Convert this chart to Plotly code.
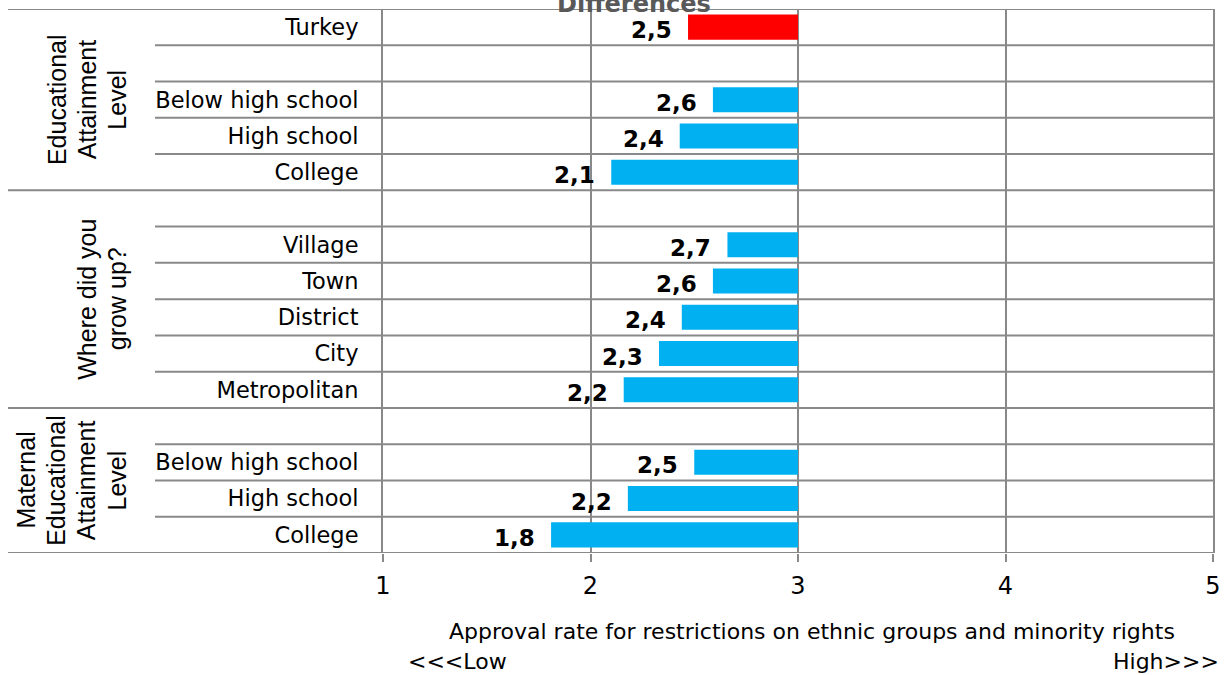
import plotly.graph_objects as go

# ---------------- data ----------------
rows = ["Turkey", "", "Below high school", "High school", "College",
        "", "Village", "Town", "District", "City", "Metropolitan",
        "", "Below high school", "High school", "College"]
values = [2.47, None, 2.59, 2.43, 2.10,
          None, 2.66, 2.59, 2.44, 2.33, 2.16,
          None, 2.50, 2.18, 1.81]
group_labels = [["Educational", "Attainment", "Level"],
                ["Where did you", "grow up?"],
                ["Maternal", "Educational", "Attainment", "Level"]]
group_spans = [(0, 4), (5, 10), (11, 14)]
highlight_row = "Turkey"
x_ticks = [1, 2, 3, 4, 5]
baseline = 3
chart_title = "Differences"
axis_title = "Approval rate for restrictions on ethnic groups and minority rights"
low_label = "<<<Low"
high_label = "High>>>"

# ---------------- layout constants ----------------
W, H = 1228, 675
ML, MR, MT, MB = 383, 15, 8.5, 122
PW = W - ML - MR
GRID = "#898989"
BLUE = "#00B0F0"
RED = "#FF0000"
CAT_FONT = "DejaVu Sans"
GRP_FONT = "Liberation Sans"


def px2paper(px):
    return (px - ML) / PW


bar_idx = [i for i, v in enumerate(values) if v is not None]
bar_vals = [values[i] for i in bar_idx]
bar_colors = [RED if rows[i] == highlight_row else BLUE for i in bar_idx]

fig = go.Figure()
fig.add_trace(go.Bar(
    y=bar_idx,
    x=[v - baseline for v in bar_vals],
    base=baseline,
    orientation="h",
    marker=dict(color=bar_colors, line=dict(width=0)),
    width=0.69,
    hoverinfo="skip",
))

annotations = []
# value labels
for i, v in zip(bar_idx, bar_vals):
    annotations.append(dict(
        x=v, y=i, xref="x", yref="y", xanchor="right", yanchor="middle",
        xshift=-14, yshift=-3, showarrow=False,
        text=f"{v:.1f}".replace(".", ","),
        font=dict(family="DejaVu Sans", size=23, color="black", weight="bold"),
    ))

# group labels (rotated)
line_step = 30.3
for lines, (a, b) in zip(group_labels, group_spans):
    n = len(lines)
    yc = (a + b) / 2
    for k, ln in enumerate(lines):
        xc = 117 - (n - 1 - k) * line_step
        annotations.append(dict(
            x=px2paper(xc), y=yc, xref="paper", yref="y",
            xanchor="center", yanchor="middle", showarrow=False,
            textangle=-90, text=ln,
            font=dict(family=GRP_FONT, size=25, color="black"),
        ))

# title (partially cut at top, as in the original)
annotations.append(dict(
    x=px2paper(634), y=1, xref="paper", yref="paper",
    xanchor="center", yanchor="middle", yshift=5, showarrow=False,
    text=f"<b>{chart_title}</b>",
    font=dict(family="DejaVu Sans", size=24, color="#595959"),
))
# axis title and low/high
annotations.append(dict(
    x=px2paper(812), y=0, xref="paper", yref="paper",
    xanchor="center", yanchor="middle", yshift=-(631 - (H - MB)), showarrow=False,
    text=axis_title, font=dict(family=CAT_FONT, size=22, color="black"),
))
annotations.append(dict(
    x=px2paper(406), y=0, xref="paper", yref="paper",
    xanchor="left", yanchor="middle", yshift=-(661 - (H - MB)), showarrow=False,
    text=low_label, font=dict(family=CAT_FONT, size=22, color="black"),
))
annotations.append(dict(
    x=px2paper(1221), y=0, xref="paper", yref="paper",
    xanchor="right", yanchor="middle", yshift=-(661 - (H - MB)), showarrow=False,
    text=high_label, font=dict(family=CAT_FONT, size=22, color="black"),
))

# horizontal separators at row boundaries
group_bounds = set()
for a, b in group_spans:
    group_bounds.add(a - 0.5)
    group_bounds.add(b + 0.5)
shapes = []
for k in range(len(rows) + 1):
    yb = k - 0.5
    x0 = px2paper(8) if yb in group_bounds else px2paper(155)
    shapes.append(dict(
        type="line", xref="paper", yref="y", x0=x0, x1=1, y0=yb, y1=yb,
        line=dict(color=GRID, width=2), layer="below",
    ))

fig.update_layout(
    width=W, height=H,
    margin=dict(l=ML, r=MR, t=MT, b=MB, pad=0),
    plot_bgcolor="white", paper_bgcolor="white",
    showlegend=False,
    annotations=annotations,
    shapes=shapes,
    xaxis=dict(
        range=[x_ticks[0], x_ticks[-1]], tickmode="array", tickvals=x_ticks,
        ticktext=[str(t) for t in x_ticks],
        showgrid=True, gridcolor=GRID, gridwidth=2, zeroline=False,
        ticks="outside", ticklen=8, tickwidth=2, tickcolor=GRID,
        ticklabelstandoff=3,
        tickfont=dict(family=CAT_FONT, size=24, color="black"),
        showline=False, fixedrange=True,
    ),
    yaxis=dict(
        range=[len(rows) - 0.5, -0.5], tickmode="array",
        tickvals=list(range(len(rows))), ticktext=rows,
        showgrid=False, zeroline=False, ticks="",
        ticklabelstandoff=18,
        tickfont=dict(family=CAT_FONT, size=22.5, color="black"),
        showline=True, mirror=True, linecolor=GRID, linewidth=2,
        fixedrange=True,
    ),
)

fig.write_html("out.html")
